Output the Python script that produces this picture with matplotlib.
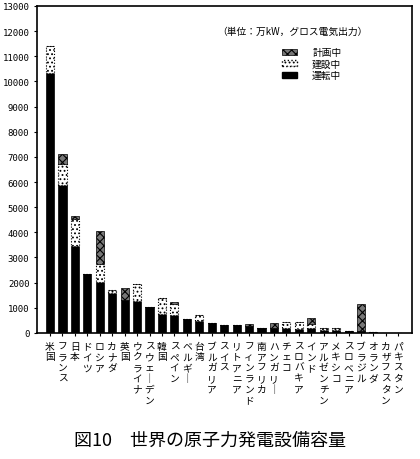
import numpy as np
import matplotlib
matplotlib.use('Agg')
import matplotlib.pyplot as plt
from matplotlib.patches import Patch

plt.rcParams['font.family'] = ['Noto Sans CJK JP', 'DejaVu Sans']
plt.rcParams['hatch.linewidth'] = 0.8

countries = ['米国', 'フランス', '日本', 'ドイツ', 'ロシア', 'カナダ', '英国', 'ウクライナ',
             'スウェーデン', '韓国', 'スペイン', 'ベルギー', '台湾', 'ブルガリア', 'スイス',
             'リトアニア', 'フィンランド', '南アフリカ', 'ハンガリー', 'チェコ', 'スロバキア',
             'インド', 'アルゼンチン', 'メキシコ', 'スロベニア', 'ブラジル', 'オランダ',
             'カザフスタン', 'パキスタン']
operating = [10350, 5900, 3450, 2360, 2030, 1600, 1320, 1270, 1040, 740, 700, 560, 490, 390,
             320, 300, 280, 190, 180, 180, 170, 190, 100, 130, 60, 60, 50, 15, 13]
construction = [1050, 820, 1070, 0, 730, 90, 0, 660, 0, 650, 450, 0, 230, 0,
                0, 0, 0, 0, 0, 250, 260, 170, 90, 70, 0, 0, 0, 0, 0]
planned = [0, 400, 110, 0, 1310, 0, 480, 0, 0, 0, 80, 0, 0, 0,
           0, 0, 80, 0, 210, 0, 0, 230, 0, 0, 0, 1100, 0, 0, 0]
yticks = np.arange(0, 13001, 1000)

x = np.arange(len(countries))
op = np.array(operating)
co = np.array(construction)
pl = np.array(planned)

fig = plt.figure(figsize=(4.2, 4.6), dpi=100)
ax = fig.add_axes([0.088, 0.274, 0.893, 0.711])

w = 0.65
ax.bar(x, op, w, color='black', edgecolor='black', linewidth=0.5)
ax.bar(x, co, w, bottom=op, color='white', edgecolor='black', hatch='....',
       linestyle=':', linewidth=0.8)
ax.bar(x, pl, w, bottom=op + co, color='#777777', edgecolor='black', hatch='xxxx',
       linewidth=0.5)

ax.set_xlim(-1.05, len(countries) - 1 + 1.1)
ax.set_ylim(0, 13000)
ax.set_yticks(yticks)
ax.set_yticklabels([str(v) for v in yticks], family='DejaVu Sans Mono', fontsize=6.5)
ax.set_xticks(x)
# vertical writing: one character per line, long vowel mark turned upright
ax.set_xticklabels(['\n'.join(c.replace('ー', '｜')) for c in countries],
                   fontsize=7, linespacing=1.1, va='top')
ax.tick_params(axis='both', direction='out', length=2.5, width=0.8, pad=3)
for s in ax.spines.values():
    s.set_linewidth(1.2)

ax.text(0.48, 0.925, '（単位：万kW，グロス電気出力）', transform=ax.transAxes,
        fontsize=7, ha='left', va='center')

handles = [Patch(facecolor='#777777', edgecolor='black', hatch='xxxx', linewidth=0.5),
           Patch(facecolor='white', edgecolor='black', hatch='....', linestyle=':'),
           Patch(facecolor='black', edgecolor='black')]
ax.legend(handles, ['計画中', '建設中', '運転中'], loc='upper left',
          bbox_to_anchor=(0.63, 0.9), frameon=False, fontsize=7,
          handlelength=1.5, handleheight=0.6, labelspacing=0.15, handletextpad=1.6)

fig.text(0.5, 0.042, '図10　世界の原子力発電設備容量', ha='center', va='center', fontsize=13)

fig.savefig('out.png')
